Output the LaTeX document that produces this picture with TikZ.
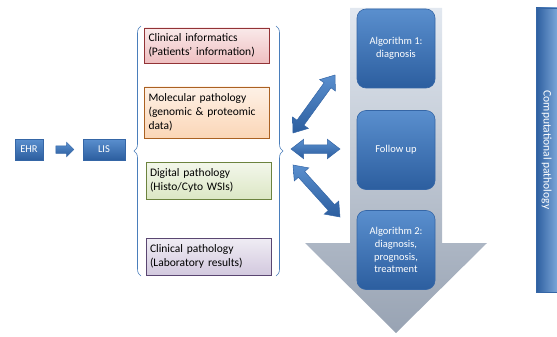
\documentclass[tikz,border=0pt]{standalone}
\usepackage{fontspec}
\setmainfont{Carlito}
\usepackage{tikz}
\usetikzlibrary{positioning}
\usetikzlibrary{calc}
\usetikzlibrary{shapes.arrows}
\usetikzlibrary{decorations.pathreplacing}
\definecolor{bluetop}{HTML}{5A8FCE}
\definecolor{bluebot}{HTML}{2C5E9F}
\definecolor{blueline}{HTML}{3566A6}
\definecolor{bracecol}{HTML}{4A7EBB}
\definecolor{graytop}{HTML}{E2E8F0}
\definecolor{graybot}{HTML}{98A3B3}
\tikzset{bluebox/.style = {draw=blueline, top color=bluetop, bottom color=bluebot,
                           text=white, inner sep=0, line width=0.6pt}}
\tikzset{algbox/.style = {bluebox, rounded corners=9pt, minimum width=78pt,
                          minimum height=79pt, align=center,
                          font=\fontsize{10.5}{12.8}\selectfont}}
\tikzset{infobox/.style = {draw=#1!70!black, top color=#1!12, bottom color=#1!35,
                           line width=0.7pt, minimum width=125pt, inner sep=0,
                           text width=117pt, align=left,
                           font=\fontsize{11.5}{14}\selectfont}}
\tikzset{dblarrow/.style = {double arrow, draw=blueline, top color=bluetop,
                            bottom color=bluebot, inner sep=4pt,
                            double arrow head extend=5.5pt, double arrow tip angle=75,
                            line width=0.5pt}}
\tikzset{curly/.style = {draw=bracecol, line width=0.6pt, decorate,
                         decoration={brace, amplitude=7pt}}}
\definecolor{redb}{HTML}{D0494D}
\definecolor{orangeb}{HTML}{F38A30}
\definecolor{greenb}{HTML}{9BBB59}
\definecolor{purpleb}{HTML}{8064A2}
\begin{document}
\begin{tikzpicture}[x=1pt, y=-1pt]
    \useasboundingbox (0,0) rectangle (557,337);

    % big gray arrow
    \coordinate (tip) at (396,333);
    \shade[top color=graytop, bottom color=graybot]
        (350,8) -- (442,8) -- (442,243) -- (487,243) -- (tip) -- (305,243) -- (350,243) -- cycle;

    \node[bluebox, minimum width=28pt, minimum height=21pt,
          font=\fontsize{10.5}{12}\selectfont] (ehr) at (29,149.5) {EHR};
    \node[bluebox, minimum width=42pt, minimum height=21pt,
          font=\fontsize{10.5}{12}\selectfont] (lis) at (104,149.5) {LIS};
    \node[single arrow, draw=blueline, top color=bluetop, bottom color=bluebot,
          inner sep=3.5pt, minimum height=18pt,
          single arrow head extend=3.5pt, line width=0.5pt]
          (ehrlis) at ($(ehr.east)!0.5!(lis.west)$) {};

    \node[infobox=redb, minimum height=35pt] (clin) at (207,45.5)
        {Clinical informatics\\(Patients' information)};
    \node[infobox=orangeb, minimum height=51pt] (mol) at (207,112.5)
        {Molecular pathology\\(genomic \& proteomic\\data)};
    \node[infobox=greenb, minimum height=37pt] (dig) at (208.5,180.5)
        {Digital pathology\\(Histo/Cyto WSIs)};
    \node[infobox=purpleb, minimum height=37pt] (lab) at (208.5,256.5)
        {Clinical pathology\\(Laboratory results)};

    \draw[curly] (141,276) -- (141,26); % left brace
    \draw[curly] (276,26) -- (276,276); % right brace

    \node[algbox] (alg1) at (396,48.5) {Algorithm 1:\\diagnosis};
    \node[algbox] (follow) at (396,150) {Follow up};
    \node[algbox] (alg2) at (396,250) {Algorithm 2:\\diagnosis,\\prognosis,\\treatment};

    \node[dblarrow, rotate=54.1, minimum height=71.6pt] (up) at (314,104) {};
    \node[dblarrow, minimum height=49pt] (mid) at (315.5,149) {};
    \node[dblarrow, rotate=-47.9, minimum height=70.1pt] (down) at (316.5,191) {};

    \node[draw=blueline, left color=bluebot, right color=bluetop!80!white,
          minimum width=21pt, minimum height=284pt, inner sep=0, line width=0.5pt]
          (comp) at (546.5,150) {};
    \node[rotate=-90, text=white, font=\fontsize{11.5}{14}\selectfont]
          at (comp.center) {Computational pathology};
  \end{tikzpicture}
\end{document}
